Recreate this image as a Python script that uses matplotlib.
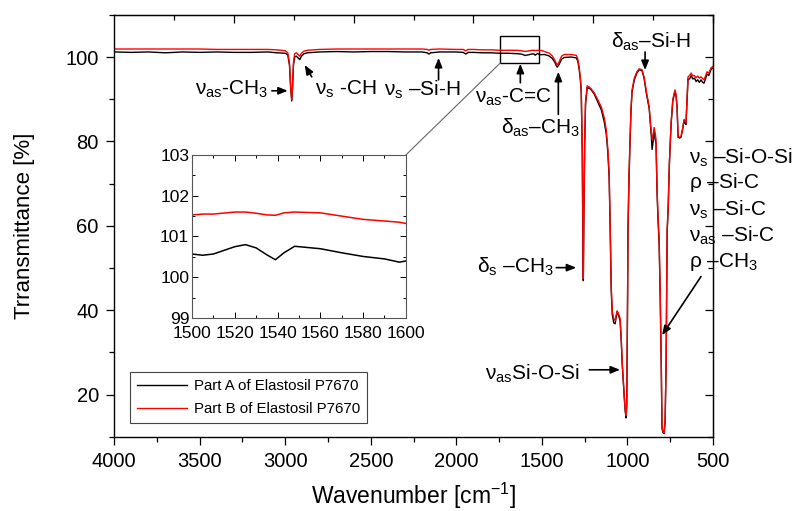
import numpy as np
import matplotlib
matplotlib.use('Agg')
import matplotlib.pyplot as plt
from matplotlib.patches import Rectangle, ConnectionPatch
from matplotlib.ticker import MultipleLocator

plt.rcParams['font.family'] = ['Liberation Sans', 'DejaVu Sans']
plt.rcParams['mathtext.fontset'] = 'custom'
plt.rcParams['mathtext.rm'] = 'Liberation Sans'
plt.rcParams['mathtext.it'] = 'Liberation Sans:italic'
plt.rcParams['mathtext.default'] = 'regular'

# wavenumber [cm-1], high -> low
wavenumber = [4000, 3900, 3800, 3700, 3600, 3500, 3400, 3300, 3200, 3100, 3050, 3000,
              2985, 2975, 2968, 2962, 2958, 2952, 2945, 2935, 2925, 2915, 2905, 2890, 2870,
              2800, 2700, 2600, 2500, 2400, 2300, 2200, 2170, 2160, 2150, 2100, 2000,
              1960, 1945, 1930, 1900, 1850, 1800, 1750, 1700, 1650, 1620,
              1600, 1597, 1590, 1580, 1570, 1560, 1548, 1543, 1539, 1535, 1530, 1525, 1520, 1510, 1505, 1500,
              1486, 1460, 1440, 1425, 1415, 1410, 1400, 1385, 1369, 1330, 1299, 1290, 1282, 1275, 1270, 1264,
              1260, 1258, 1255, 1250, 1245, 1235,
              1215, 1194, 1175, 1153, 1135, 1124, 1115, 1107, 1100, 1095, 1089, 1080, 1072, 1066, 1060, 1050,
              1043, 1036, 1031, 1025, 1019, 1013, 1008, 1004, 1002,
              999, 997, 991, 985, 979, 973, 960, 945, 932, 915, 903, 890,
              873, 862, 856, 850, 844, 838, 833, 827, 821, 815, 809, 803, 798, 792, 786, 780, 774, 768, 762,
              755, 745, 735, 722, 716, 710, 704, 695, 687, 678, 669, 663, 658, 652, 646, 637, 628, 618, 608, 599,
              590, 580, 570, 561, 553, 544, 535, 525, 512, 500]

part_a = [101.2, 101.1, 101.2, 101.0, 101.2, 101.1, 101.2, 101.1, 101.1, 101.2, 101.0, 100.9,
          100.5, 98.0, 92.5, 89.6, 92.0, 98.0, 100.0, 100.2, 99.8, 99.4, 100.2, 100.8, 101.0,
          101.2, 101.3, 101.2, 101.3, 101.3, 101.2, 101.2, 101.0, 100.7, 101.0, 101.2, 101.2,
          101.1, 100.7, 101.1, 101.1, 101.0, 101.0, 100.9, 100.9, 100.8, 100.7,
          100.40, 100.37, 100.45, 100.51, 100.6, 100.70, 100.76, 100.6, 100.43, 100.55, 100.72, 100.8, 100.75, 100.57, 100.54, 100.57,
          100.6, 100.3, 99.7, 98.8, 97.9, 97.6, 98.2, 99.5, 99.9, 100.0, 99.8, 99.0, 97.0, 94.5, 91.5, 77.0,
          54.0, 47.0, 61.0, 79.0, 88.8, 92.8,
          92.4, 91.2, 89.5, 87.5, 84.5, 81.8, 77.5, 71.5, 57.0, 45.0, 39.0, 37.0, 36.8, 38.3, 39.8, 38.5,
          37.5, 32.5, 27.5, 23.5, 19.5, 16.0, 14.5, 17.5, 27.5,
          44.0, 58.5, 71.0, 79.8, 87.5, 91.8, 94.6, 96.2, 97.0, 96.8, 95.0, 91.5,
          87.8, 82.0, 78.1, 80.0, 82.5, 80.5, 79.5, 68.0, 61.0, 56.0, 44.0, 28.5, 12.0, 11.0, 10.8, 13.5, 27.5, 58.5, 64.0,
          74.5, 84.0, 89.5, 92.0, 90.8, 88.0, 81.0, 80.8, 81.0, 82.8, 85.0, 84.3, 84.0, 89.5, 94.8, 94.8, 95.6, 94.8, 95.0, 94.2,
          94.6, 94.0, 94.6, 94.0, 93.8, 94.8, 96.0, 95.6, 97.0, 97.5]

part_b = [101.9, 101.9, 101.9, 101.9, 101.9, 101.9, 101.8, 101.8, 101.8, 101.8, 101.7, 101.5,
          101.0, 98.5, 93.0, 89.9, 92.5, 98.5, 100.8, 101.0, 100.6, 100.2, 100.9, 101.4, 101.6,
          101.8, 101.9, 101.9, 101.9, 101.9, 101.9, 101.9, 101.8, 101.6, 101.8, 101.9, 101.8,
          101.8, 101.5, 101.8, 101.8, 101.7, 101.7, 101.6, 101.6, 101.6, 101.5,
          101.32, 101.35, 101.38, 101.42, 101.5, 101.58, 101.6, 101.58, 101.52, 101.53, 101.57, 101.6, 101.6, 101.55, 101.55, 101.53,
          101.3, 101.0, 100.3, 99.3, 98.4, 98.1, 98.8, 100.2, 100.6, 100.6, 100.4, 99.5, 97.6, 95.0, 92.2, 78.0,
          55.0, 47.5, 62.0, 80.0, 89.5, 93.2,
          92.6, 91.5, 90.0, 88.2, 85.5, 82.8, 78.5, 72.7, 58.0, 45.9, 39.8, 38.0, 37.6, 38.8, 39.8, 39.0,
          38.1, 33.0, 28.0, 24.0, 20.0, 16.5, 15.1, 18.0, 28.0,
          45.0, 59.3, 72.0, 80.5, 88.0, 92.2, 95.0, 96.5, 97.2, 97.0, 95.3, 92.0,
          88.2, 82.8, 80.5, 81.5, 83.3, 82.0, 80.5, 68.7, 62.0, 56.9, 45.0, 29.4, 12.2, 11.3, 11.0, 14.0, 28.0, 59.3, 64.7,
          75.0, 84.5, 90.0, 92.2, 91.0, 88.2, 81.2, 81.0, 81.2, 83.0, 85.2, 84.8, 84.5, 90.0, 95.3, 95.6, 96.2, 95.5, 95.6, 95.1,
          95.5, 95.0, 95.3, 94.9, 94.6, 95.5, 96.5, 96.2, 97.4, 97.8]

fig = plt.figure(figsize=(7.98, 5.11), dpi=100)
ax = fig.add_axes([0.143, 0.145, 0.7505, 0.826])

ax.plot(wavenumber, part_a, color='black', lw=1.0, label='Part A of Elastosil P7670')
ax.plot(wavenumber, part_b, color='red', lw=1.0, label='Part B of Elastosil P7670')

ax.set_xlim(4000, 500)
ax.set_ylim(10, 110)
ax.xaxis.set_major_locator(MultipleLocator(500))
ax.xaxis.set_minor_locator(MultipleLocator(250))
ax.yaxis.set_major_locator(MultipleLocator(20))
ax.yaxis.set_minor_locator(MultipleLocator(10))
ax.tick_params(which='both', direction='out', labelsize=14.5, width=0.9)
ax.tick_params(which='major', length=6, pad=5)
ax.tick_params(which='minor', length=3.5)
for sp in ax.spines.values():
    sp.set_linewidth(1.0)

# top and right ticks are inward, top axis has its own spacing
top = ax.secondary_xaxis('top')
top.set_xticks([3300, 2600, 1900, 1200, 500])
top.set_xticks([3650, 2950, 2250, 1550, 850], minor=True)
top.tick_params(which='both', direction='in', labeltop=False, width=0.9)
top.tick_params(which='major', length=6)
top.tick_params(which='minor', length=3.5)
right = ax.secondary_yaxis('right')
right.yaxis.set_major_locator(MultipleLocator(20))
right.yaxis.set_minor_locator(MultipleLocator(10))
right.tick_params(which='both', direction='in', labelright=False, width=0.9)
right.tick_params(which='major', length=6)
right.tick_params(which='minor', length=3.5)

ax.set_xlabel('Wavenumber [cm$^{-1}$]', fontsize=16.5)
ax.set_ylabel('Trransmittance [%]', fontsize=16)
ax.xaxis.set_label_coords(0.5, -0.104)
ax.yaxis.set_label_coords(-0.132, 0.5)

leg = ax.legend(loc='lower left', bbox_to_anchor=(0.027, 0.033), borderaxespad=0,
                fontsize=10.8, fancybox=False, handlelength=3.3, handletextpad=0.5,
                borderpad=0.45, labelspacing=0.6, framealpha=1)
leg.get_frame().set_edgecolor('#444444')
leg.get_frame().set_linewidth(0.8)

fs = 15


def arrow(x0, y0, x1, y1):
    ax.annotate('', xy=(x1, y1), xytext=(x0, y0),
                arrowprops=dict(arrowstyle='-|>,head_length=0.55,head_width=0.22',
                                color='black', lw=1.2, shrinkA=0, shrinkB=0))


ax.text(3100, 92.3, r'$\nu_{as}$-CH$_3$', fontsize=fs, ha='right', va='center')
arrow(3078, 92.0, 2985, 92.0)
ax.text(2828, 92.3, r'$\nu_s$ -CH', fontsize=fs, ha='left', va='center')
arrow(2845, 95.3, 2886, 98.1)
ax.text(2425, 92.3, r'$\nu_s$ –Si-H', fontsize=fs, ha='left', va='center')
arrow(2104, 94.6, 2104, 99.8)
ax.text(1665, 90.4, r'$\nu_{as}$-C=C', fontsize=fs, ha='center', va='center')
arrow(1626, 93.9, 1626, 98.4)
ax.text(1509, 83.3, r'$\delta_{as}$–CH$_3$', fontsize=fs, ha='center', va='center')
arrow(1404, 86.4, 1404, 96.5)
ax.text(862, 103.6, r'$\delta_{as}$–Si-H', fontsize=fs, ha='center', va='center')
arrow(897, 101.2, 897, 96.9)
ax.text(1428, 50.4, r'$\delta_s$ –CH$_3$', fontsize=fs, ha='right', va='center')
arrow(1416, 50.1, 1299, 50.1)
ax.text(1282, 24.9, r'$\nu_{as}$Si-O-Si', fontsize=fs, ha='right', va='center')
arrow(1223, 25.9, 1043, 25.9)
for t, y in zip([r'$\nu_s$ –Si-O-Si', r'$\rho$ –Si-C', r'$\nu_s$ –Si-C',
                 r'$\nu_{as}$ –Si-C', r'$\rho$ –CH$_3$'],
                [76.2, 70.2, 63.9, 57.6, 51.5]):
    ax.text(640, y, t, fontsize=fs, ha='left', va='center')
arrow(570, 48.0, 798, 34.1)

# zoom box and inset
ax.add_patch(Rectangle((1515, 98.6), 228, 6.3, fill=False, edgecolor='black', lw=1.0))

ins = fig.add_axes([0.2406, 0.3777, 0.268, 0.319])
ins.plot(wavenumber, part_a, color='black', lw=1.1)
ins.plot(wavenumber, part_b, color='red', lw=1.1)
ins.set_xlim(1500, 1600)
ins.set_ylim(99, 103)
ins.xaxis.set_major_locator(MultipleLocator(20))
ins.xaxis.set_minor_locator(MultipleLocator(10))
ins.yaxis.set_major_locator(MultipleLocator(1))
ins.yaxis.set_minor_locator(MultipleLocator(0.5))
ins.tick_params(which='both', direction='in', top=True, right=True, labelsize=12.5,
                width=0.7, pad=2)
ins.tick_params(axis='x', pad=5.5)
ins.tick_params(which='major', length=4)
ins.tick_params(which='minor', length=2.5)
for sp in ins.spines.values():
    sp.set_linewidth(0.8)
    sp.set_edgecolor('#555555')

con = ConnectionPatch(xyA=(1600, 103), coordsA=ins.transData,
                      xyB=(1743, 98.6), coordsB=ax.transData,
                      color='#666666', lw=0.8)
fig.add_artist(con)

fig.savefig('out.png', dpi=100)
